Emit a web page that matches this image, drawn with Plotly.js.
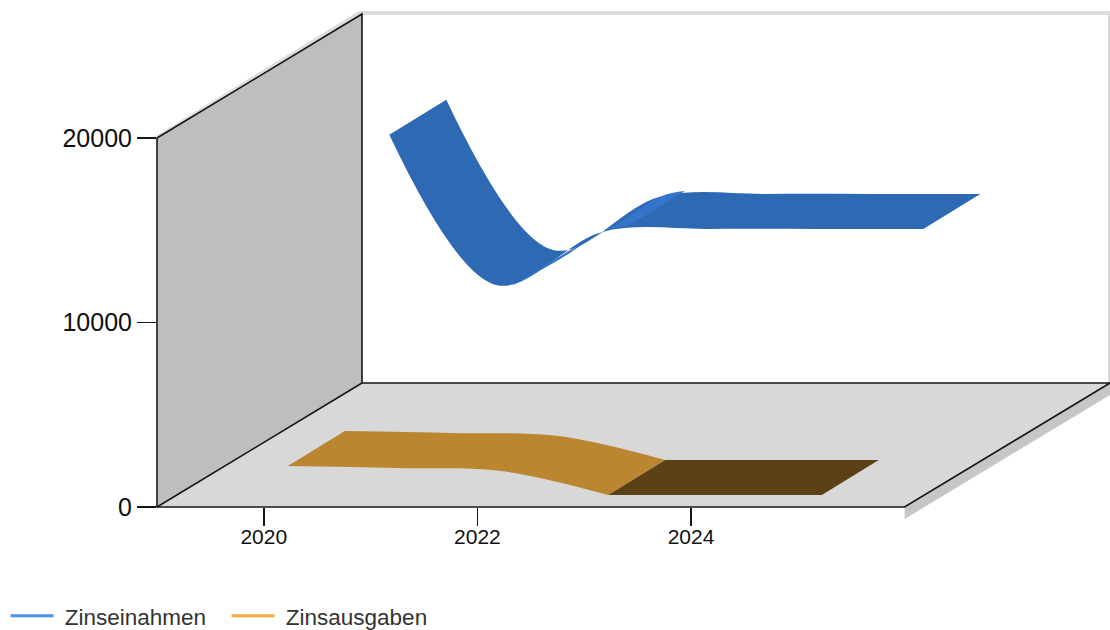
<!DOCTYPE html>
<html><head><meta charset="utf-8">
<script src="https://cdn.plot.ly/plotly-3.0.1.min.js"></script>
<style>html,body{margin:0;padding:0;background:#fff}</style></head>
<body><div id="chart" style="width:1110px;height:630px"></div>
<script>
const years = [2020, 2021, 2022, 2023, 2024, 2025];
const zinseinnahmen = [16000, 7860, 10750, 10900, 10900, 10900];
const zinsausgaben = [1570, 1460, 1300, 0, 0, 0];
const brightYears = [2021.13, 2021.6, 2022.02, 2022.235];
const brightValues = [7750, 9270, 10790, 11060];
const tickYears = [2020, 2022, 2024];
const tickValues = [0, 10000, 20000];

const W = 1110, H = 630, L = 157, B = 123;
const pxPerYear = 106.8, pxPerValue = 0.01845;
const xMin = 2019, xMax = xMin + (W - L) / pxPerYear;
const yMax = (H - B) / pxPerValue;
const xOff = px => px / pxPerYear;
const yOff = px => px / pxPerValue;

function edge(xs, ys, dx, dy) {
  return {x: xs.map(v => v + xOff(dx)), y: ys.map(v => v + yOff(dy))};
}
function ribbon(xs, ys, front, back, color, shape) {
  const a = edge(xs, ys, back[0], back[1]);
  const b = edge(xs, ys, front[0], front[1]);
  const line = {width: 0, shape: shape, smoothing: 1.0};
  return [
    {x: a.x, y: a.y, mode: 'lines', line: line, showlegend: false, hoverinfo: 'skip'},
    {x: b.x, y: b.y, mode: 'lines', line: line, fill: 'tonexty', fillcolor: color, showlegend: false, hoverinfo: 'skip'}
  ];
}
const rowOrange = [[24, 12], [81, 47]];
const rowBlue = [[125.5, 77], [182.5, 112]];

const traces = [
  ...ribbon(years.slice(0, 4), zinsausgaben.slice(0, 4), rowOrange[0], rowOrange[1], '#bb8630', 'spline'),
  ...ribbon(years.slice(3), zinsausgaben.slice(3), rowOrange[0], rowOrange[1], '#5c4016', 'linear'),
  ...ribbon(years, zinseinnahmen, rowBlue[0], rowBlue[1], '#2e69b3', 'spline'),
  ...ribbon(brightYears, brightValues, rowBlue[0], rowBlue[1], '#3475cb', 'spline'),
  {x: [null], y: [null], mode: 'lines', name: '\u00a0Zinseinahmen', line: {color: '#4a90ee', width: 3}},
  {x: [null], y: [null], mode: 'lines', name: '\u00a0Zinsausgaben', line: {color: '#f8ab3a', width: 3}}
];

// frame geometry in paper space, derived from the axis scales
const PW = W - L, PH = H - B;
const px = x => (x - L) / PW;       // pixel column -> paper
const py = y => (PH - y) / PH;      // pixel row -> paper
const fx0 = L, fx1 = L + (2026 - 2019) * pxPerYear;
const fy0 = PH, fyT = PH - 20000 * pxPerValue;
const dX = 205, dY = 124;
function poly(pts, fill, line) {
  const path = pts.map((p, i) => (i ? 'L' : 'M') + px(p[0]) + ',' + py(p[1])).join(' ') + (fill ? ' Z' : '');
  return {type: 'path', xref: 'paper', yref: 'paper', layer: 'below', path: path,
    fillcolor: fill || 'rgba(0,0,0,0)', line: line || {width: 0}};
}
const ink = {color: '#161616', width: 1.6};
const shapes = [
  poly([[fx0 - 3, fyT - 1], [fx0 + dX - 3, fyT - dY - 3], [W, fyT - dY - 3], [W, fyT - dY + 1], [fx0 + dX, fyT - dY + 1], [fx0, fyT + 2]], '#dcdcdc'),
  poly([[W - 2, fyT - dY], [W, fyT - dY], [W, fy0 - dY], [W - 2, fy0 - dY]], '#d8d8d8'),
  poly([[fx1, fy0], [W, fy0 - dY], [W, fy0 - dY + 12], [fx1, fy0 + 12]], '#c6c6c6'),
  poly([[fx0, fyT], [fx0 + dX, fyT - dY], [fx0 + dX, fy0 - dY], [fx0, fy0]], '#bebebe'),
  poly([[fx0, fy0], [fx0 + dX, fy0 - dY], [W, fy0 - dY], [fx1, fy0]], '#d8d8d8'),
  poly([[fx0, fyT], [fx0, fy0], [fx1, fy0], [W, fy0 - dY], [fx0 + dX, fy0 - dY], [fx0 + dX, fyT - dY], [fx0, fyT]], null, ink),
  poly([[fx0, fy0], [fx0 + dX, fy0 - dY]], null, ink)
];

const layout = {
  width: W, height: H,
  margin: {l: L, r: 0, t: 0, b: B, pad: 0},
  paper_bgcolor: '#fff', plot_bgcolor: '#fff',
  font: {family: '"Liberation Sans", Arial, sans-serif', color: '#111'},
  xaxis: {range: [xMin, xMax], tickmode: 'array', tickvals: tickYears, ticktext: tickYears.map(String),
    ticks: 'outside', ticklen: 18, tickwidth: 1.5, tickcolor: '#161616', showgrid: false, zeroline: false, showline: false,
    ticklabelstandoff: -7, tickfont: {size: 21, color: '#111'}},
  yaxis: {range: [0, yMax], tickmode: 'array', tickvals: tickValues, ticktext: tickValues.map(String),
    ticks: 'outside', ticklen: 19, tickwidth: 1.5, tickcolor: '#161616', showgrid: false, zeroline: false, showline: false,
    tickfont: {size: 25, color: '#111'}},
  shapes: shapes,
  showlegend: true,
  legend: {orientation: 'h', xref: 'container', yref: 'container', x: 0.005, y: 0.022, xanchor: 'left', yanchor: 'middle',
    font: {size: 22.5, color: '#333'}, itemwidth: 43, entrywidth: 163, entrywidthmode: 'pixels', traceorder: 'normal', bgcolor: 'rgba(0,0,0,0)'}
};
Plotly.newPlot('chart', traces, layout, {displayModeBar: false, staticPlot: true});
</script></body></html>
